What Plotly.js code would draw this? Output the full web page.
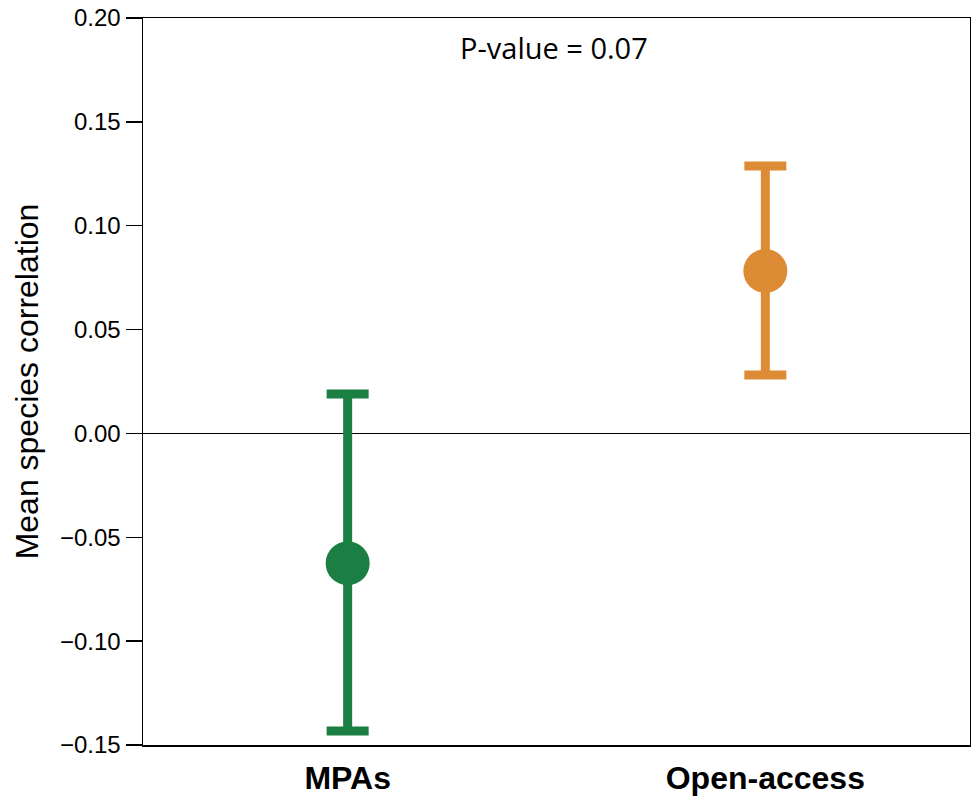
<!DOCTYPE html>
<html>
<head>
<meta charset="utf-8">
<script src="https://cdn.plot.ly/plotly-3.0.1.min.js"></script>
<style>html,body{margin:0;padding:0;background:#fff;}#chart{width:971px;height:797px;}</style>
</head>
<body>
<div id="chart"></div>
<script>
const categories = ["MPAs", "Open-access"];
const means = [-0.0625, 0.0782];
const upperCI = [0.0190, 0.1287];
const lowerCI = [-0.1433, 0.0281];
const colors = ["#1B7F43", "#DE8B35"];
const yTicks = [-0.15, -0.10, -0.05, 0.00, 0.05, 0.10, 0.15, 0.20];
const pLabel = "P-value = 0.07";

const traces = categories.map((c, i) => ({
  type: "scatter",
  mode: "markers",
  x: [c],
  y: [means[i]],
  marker: {size: 44, color: colors[i]},
  error_y: {
    type: "data",
    symmetric: false,
    array: [upperCI[i] - means[i]],
    arrayminus: [means[i] - lowerCI[i]],
    color: colors[i],
    thickness: 9,
    width: 21
  },
  showlegend: false,
  hoverinfo: "skip"
}));

const layout = {
  width: 971,
  height: 797,
  margin: {l: 143, r: 1, t: 18, b: 52},
  paper_bgcolor: "#fff",
  plot_bgcolor: "#fff",
  font: {family: "Liberation Sans, Arial, sans-serif", color: "#000"},
  xaxis: {
    type: "category",
    range: [-0.49, 1.49],
    showgrid: false,
    zeroline: false,
    showline: true,
    mirror: true,
    linecolor: "#000",
    linewidth: 1.5,
    ticks: "",
    ticklabelstandoff: 4,
    tickfont: {size: 32, family: "Liberation Sans, Arial, sans-serif", weight: "bold"},
    fixedrange: true
  },
  yaxis: {
    range: [-0.15, 0.20],
    tickvals: yTicks,
    tickformat: ".2f",
    showgrid: false,
    zeroline: true,
    zerolinecolor: "#000",
    zerolinewidth: 1.5,
    showline: true,
    mirror: true,
    linecolor: "#000",
    linewidth: 1.5,
    ticks: "outside",
    ticklen: 16,
    tickwidth: 1.5,
    tickcolor: "#000",
    tickfont: {size: 24},
    title: {text: "Mean species correlation", font: {size: 32}, standoff: 12},
    fixedrange: true
  },
  annotations: [{
    text: pLabel,
    xref: "paper", yref: "paper",
    x: 0.497, y: 0.96,
    xanchor: "center", yanchor: "middle",
    showarrow: false,
    font: {family: "Open Sans, sans-serif", size: 29, color: "#000"}
  }]
};

Plotly.newPlot("chart", traces, layout, {displayModeBar: false, staticPlot: true});
</script>
</body>
</html>
